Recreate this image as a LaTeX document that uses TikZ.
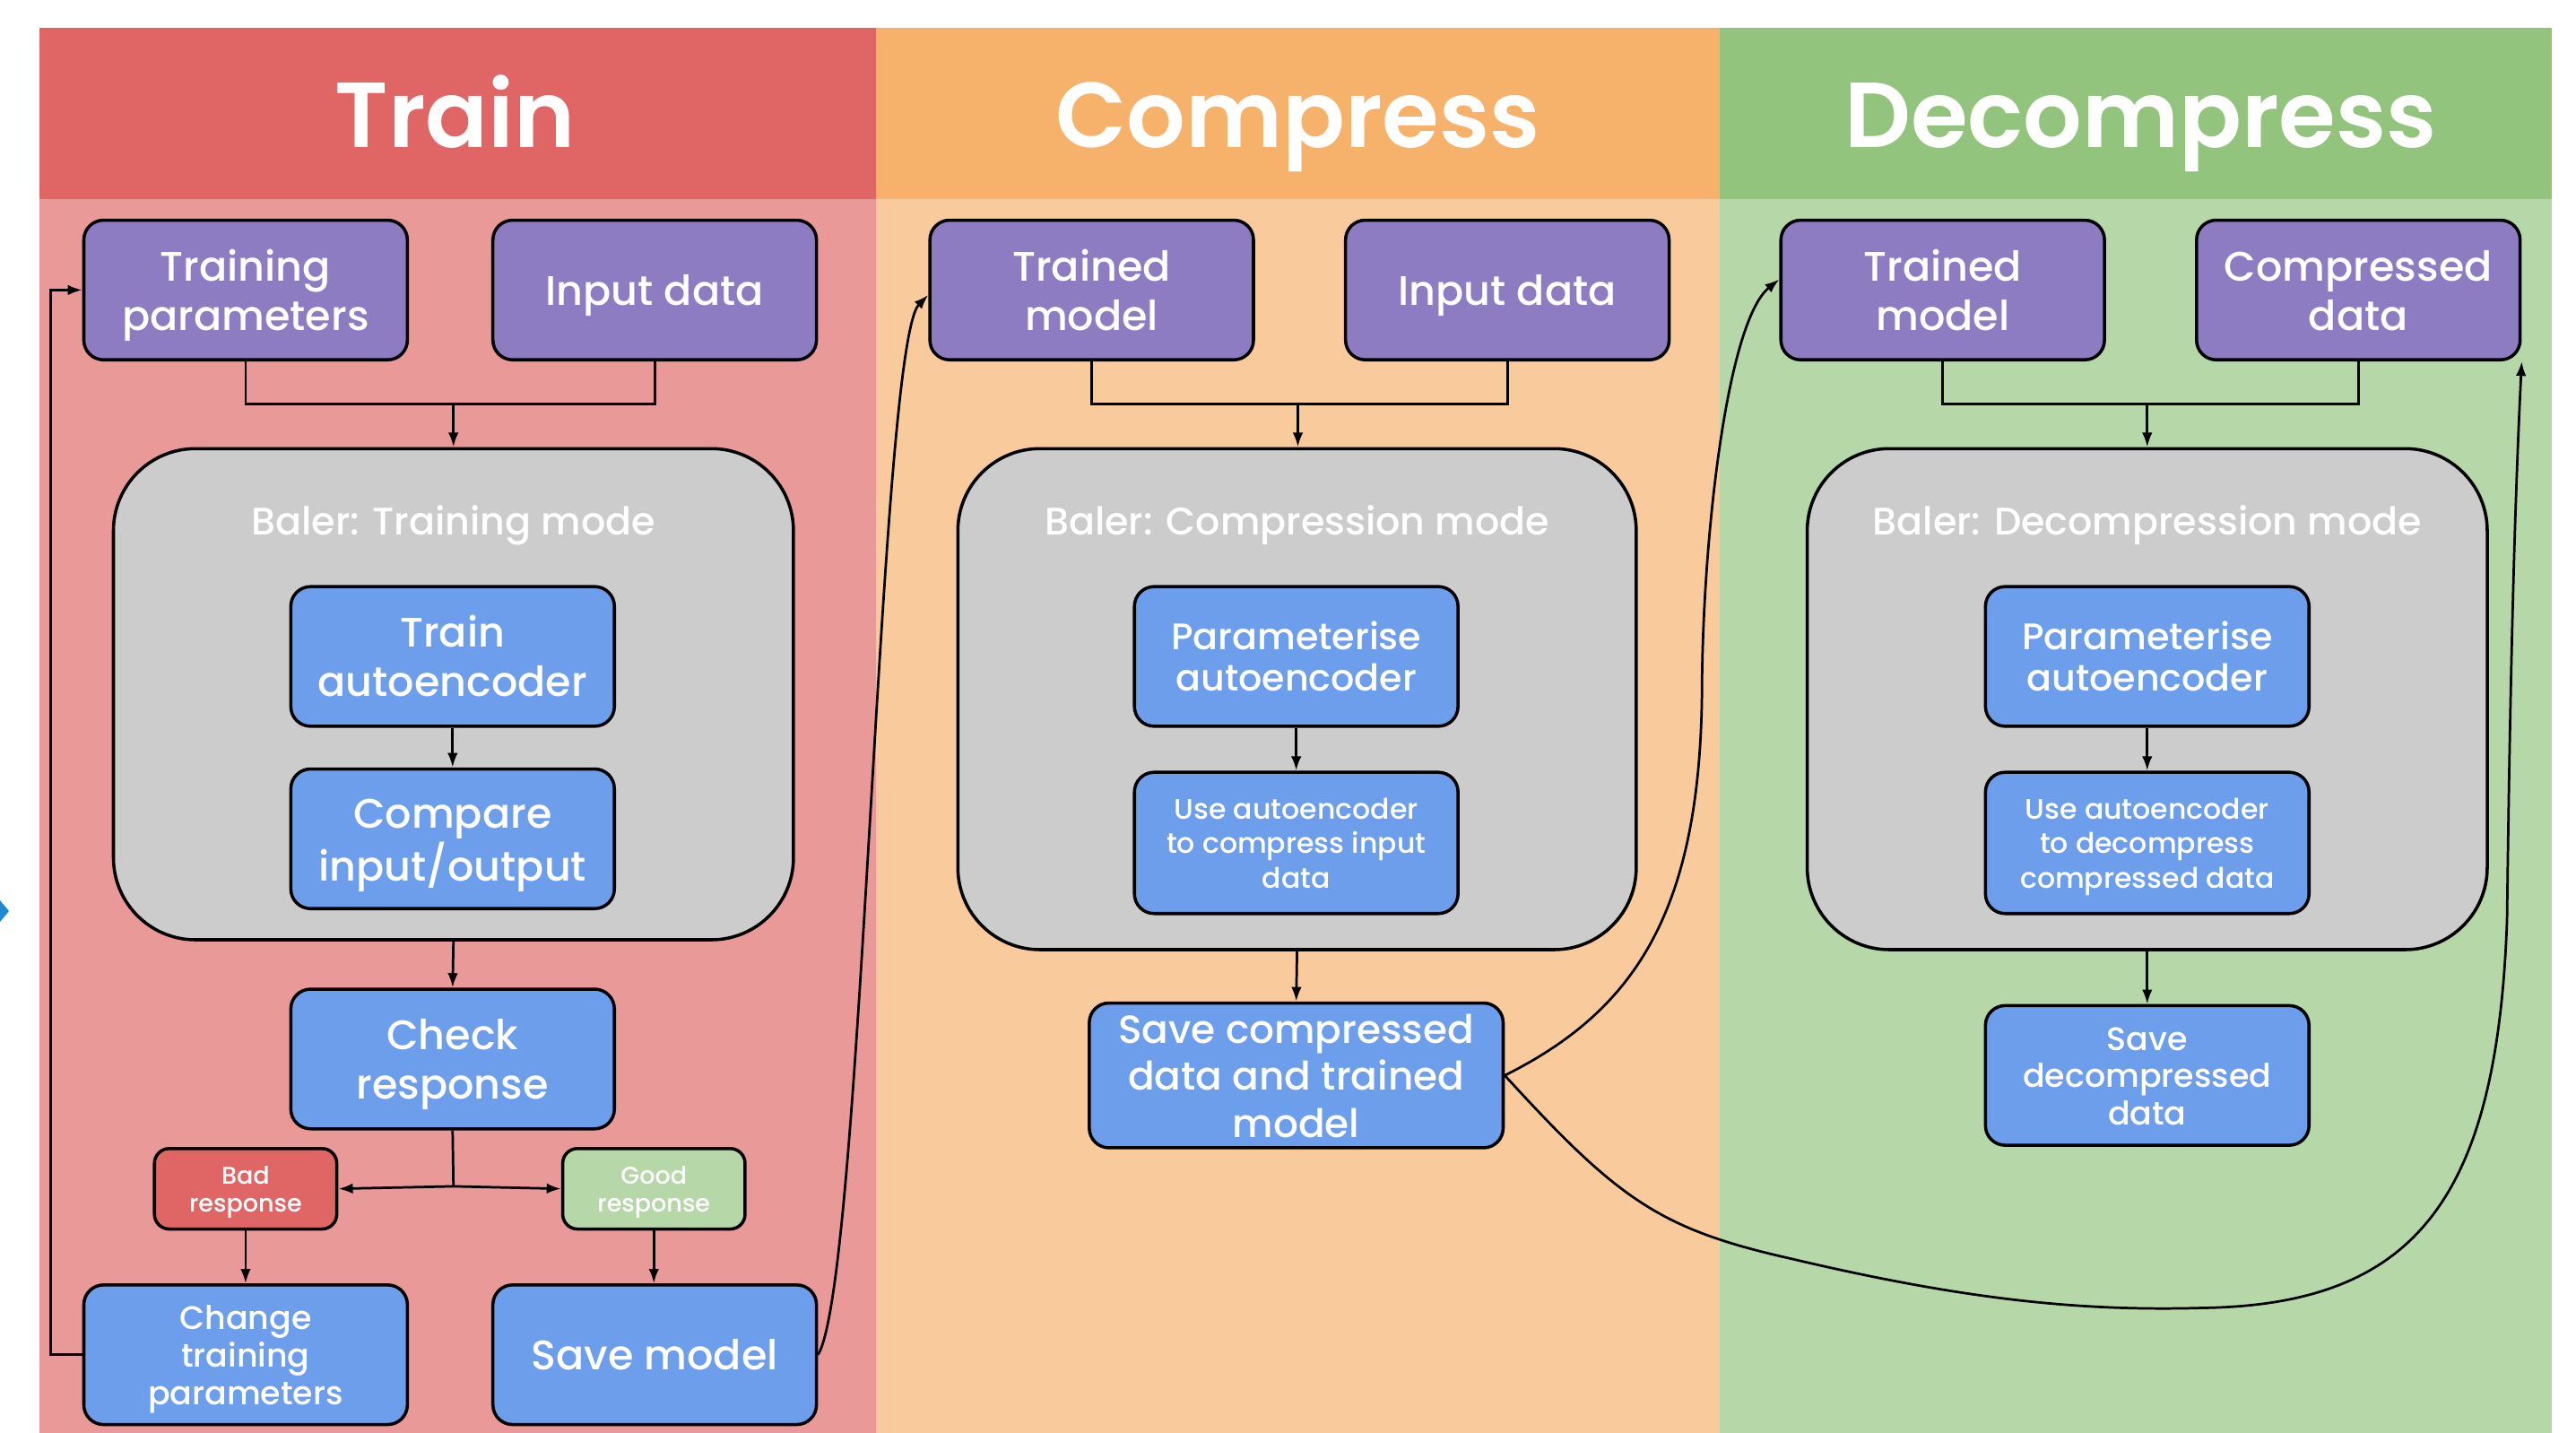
\documentclass[tikz,border=0pt]{standalone}
\usepackage{fontspec}
\setmainfont{Poppins}
\newfontfamily\medf{Poppins Medium}
\newfontfamily\semif{Poppins SemiBold}
\usetikzlibrary{arrows.meta}
\newcommand{\tsa}{\rule{0pt}{1.02em}}
\newcommand{\tsb}{\rule[-0.27em]{0pt}{0pt}}
\definecolor{trainH}{HTML}{E06666}
\definecolor{trainB}{HTML}{EA9999}
\definecolor{compH}{HTML}{F6B26B}
\definecolor{compB}{HTML}{F9CB9C}
\definecolor{decH}{HTML}{93C47D}
\definecolor{decB}{HTML}{B6D7A8}
\definecolor{purp}{HTML}{8E7CC3}
\definecolor{bluebox}{HTML}{6D9EEB}
\definecolor{grayc}{HTML}{CCCCCC}
\definecolor{chev}{HTML}{1E88D0}
\tikzset{
  box/.style={draw=black, line width=1.1pt, rounded corners=0.24cm, text=white, align=center,
    inner sep=0pt, minimum width=3.94cm, minimum height=1.7cm, font=\medf\fontsize{14.3}{17}\selectfont},
  pbox/.style={box, fill=purp},
  bbox/.style={box, fill=bluebox},
  midtext/.style={font=\medf\fontsize{12.8}{14.5}\selectfont},
  smalltext/.style={font=\medf\fontsize{9.8}{12}\selectfont},
  savetext/.style={font=\medf\fontsize{11.3}{13}\selectfont},
  resp/.style={box, minimum width=2.22cm, minimum height=0.98cm, rounded corners=0.18cm,
    font=\medf\fontsize{8.4}{9.7}\selectfont},
  container/.style={draw=black, line width=1.1pt, rounded corners=1cm, fill=grayc},
  ctitle/.style={text=white, inner sep=0pt, font=\medf\fontsize{13.3}{16}\selectfont},
  htitle/.style={text=white, anchor=base, font=\semif\fontsize{32}{40}\selectfont},
  conn/.style={line width=0.85pt},
  arr/.style={-{Latex[length=5pt,width=3.6pt]}, line width=0.85pt}
}
\begin{document}
\begin{tikzpicture}[x=0.02cm, y=-0.02cm]
\useasboundingbox (0,0) rectangle (1568,872);
% panels
\fill[trainH] (24,17) rectangle (533,121);
\fill[trainB] (24,121) rectangle (533,872);
\fill[compH] (533,17) rectangle (1047,121);
\fill[compB] (533,121) rectangle (1047,872);
\fill[decH] (1047,17) rectangle (1553,121);
\fill[decB] (1047,121) rectangle (1553,872);
\fill[chev] (0,548) -- (5.5,554.5) -- (0,561) -- cycle;
% headers
\node[htitle] (hT) at (277,90) {Train};
\node[htitle] (hC) at (790,90) {Compress};
\node[htitle] (hD) at (1303,90) {Decompress};
% containers
\node[container, minimum width=8.28cm, minimum height=5.98cm] (ct) at (276,422.5) {};
\node[container, minimum width=8.26cm, minimum height=6.1cm] (cc) at (789.5,425.5) {};
\node[container, minimum width=8.28cm, minimum height=6.1cm] (cdm) at (1307,425.5) {};
\node[ctitle] (ctT) at (276,317) {\tsa Baler: Training mode\tsb};
\node[ctitle] (ccT) at (789.5,317) {\tsa Baler: Compression mode\tsb};
\node[ctitle] (cdT) at (1307,317) {\tsa Baler: Decompression mode\tsb};
% Train column
\node[pbox] (tp) at (149.5,176.5) {\tsa Training\\parameters\tsb};
\node[pbox] (id1) at (398.5,176.5) {\tsa Input data\tsb};
\node[bbox] (ta) at (275.5,399.5) {\tsa Train\\autoencoder\tsb};
\node[bbox] (ci) at (275.5,510.5) {\tsa Compare\\input/output\tsb};
\node[bbox] (cr) at (275.5,644.5) {\tsa Check\\response\tsb};
\node[resp, fill=trainH] (bad) at (149.5,723.5) {\tsa Bad\\response\tsb};
\node[resp, fill=decB] (good) at (398,723.5) {\tsa Good\\response\tsb};
\node[bbox, savetext] (ctp) at (149.5,824.5) {\tsa Change\\training\\parameters\tsb};
\node[bbox] (sm) at (398.5,824.5) {\tsa Save model\tsb};
% Compress column
\node[pbox] (tm1) at (664.5,176.5) {\tsa Trained\\model\tsb};
\node[pbox] (id2) at (917.5,176.5) {\tsa Input data\tsb};
\node[bbox, midtext] (pa1) at (789,399.5) {\tsa Parameterise\\autoencoder\tsb};
\node[bbox, smalltext, minimum height=1.72cm] (ua1) at (789,513) {\tsa Use autoencoder\\to compress input\\data\tsb};
\node[bbox, minimum width=5.04cm, font=\medf\fontsize{13.6}{16.3}\selectfont] (scd) at (789,654.5) {\tsa Save compressed\\data and trained\\model\tsb};
% Decompress column
\node[pbox] (tm2) at (1182.5,176.5) {\tsa Trained\\model\tsb};
\node[pbox] (cd) at (1435.5,176.5) {\tsa Compressed\\data\tsb};
\node[bbox, midtext] (pa2) at (1307,399.5) {\tsa Parameterise\\autoencoder\tsb};
\node[bbox, smalltext, minimum height=1.72cm] (ua2) at (1307,513) {\tsa Use autoencoder\\to decompress\\compressed data\tsb};
\node[bbox, savetext] (sdd) at (1307,654.5) {\tsa Save\\decompressed\\data\tsb};
% join coordinates
\coordinate (j1) at (276,246);
\coordinate (j2) at (790,246);
\coordinate (j3) at (1307,246);
\coordinate (j4) at (276,722);
\coordinate (fb) at (31,824.5);
% connectors Train
\draw[conn] (tp.south) |- (j1) -| (id1.south);
\draw[arr] (j1) -- (ct.north);
\draw[arr] (ta) -- (ci);
\draw[arr] (ct.south) -- (cr.north);
\draw[conn] (cr.south) -- (j4);
\draw[arr] (j4) -- (bad.east);
\draw[arr] (j4) -- (good.west);
\draw[arr] (bad) -- (ctp);
\draw[arr] (good.south) -- (good.south |- sm.north);
\draw[arr] (ctp.west) -- (fb) |- (tp.west);
\draw[arr] (sm.east) .. controls (525,780) and (535,210) .. ([yshift=-0.06cm]tm1.west);
% connectors Compress
\draw[conn] (tm1.south) |- (j2) -| (id2.south);
\draw[arr] (j2) -- (j2 |- cc.north);
\draw[arr] (pa1) -- (ua1);
\draw[arr] (cc.south) -- (scd.north);
\draw[arr] (scd.east) .. controls (995,615) and (1036,555) .. (1036,415)
   .. controls (1037,320) and (1052,195) .. ([yshift=0.13cm]tm2.west);
\draw[arr] (scd.east) .. controls (985,730) and (1010,748) .. (1090,766)
   .. controls (1200,792) and (1270,798) .. (1341,796)
   .. controls (1470,794) and (1520,730) .. (1526,560)
   .. controls (1528,400) and (1531,300) .. (cd.south east);
% connectors Decompress
\draw[conn] (tm2.south) |- (j3) -| (cd.south);
\draw[arr] (j3) -- (cdm.north);
\draw[arr] (pa2) -- (ua2);
\draw[arr] (cdm.south) -- (sdd.north);
\end{tikzpicture}
\end{document}
